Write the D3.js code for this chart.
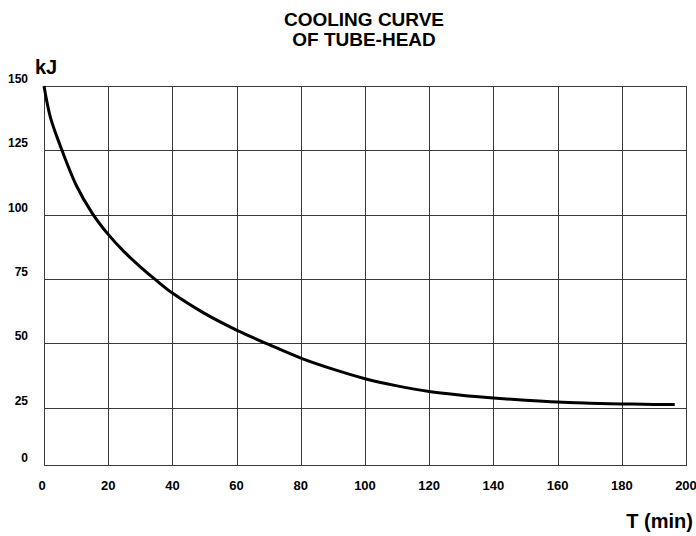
<html>
<script src='https://d3js.org/d3.v7.min.js'></script>
<style>
body {margin: 0; background: white;}
text {font-family: 'Liberation Sans', Arial, sans-serif; font-weight: bold; fill: black;}
.grid {stroke: #3a3a3a; stroke-width: 1; shape-rendering: crispEdges;}
</style>
<body>
    <svg width=696 height=536></svg>
    <script>
    var minutes = [0, 2, 5, 10, 15, 20, 25, 30, 35, 40, 50, 60, 70, 80, 90, 100, 110, 120, 130, 140, 150, 160, 170, 180, 190, 196.5]
    var energy  = [150, 137.8, 127, 111.5, 100.6, 92.3, 85.5, 79.7, 74.4, 69.5, 61.6, 55.1, 49.5, 44.2, 39.9, 36.2, 33.4, 31.2, 29.8, 28.7, 27.8, 27.1, 26.7, 26.4, 26.2, 26.2]
    var xTicks = [0, 20, 40, 60, 80, 100, 120, 140, 160, 180, 200]
    var yTicks = [0, 25, 50, 75, 100, 125, 150]
    var titleLines = ["COOLING CURVE", "OF TUBE-HEAD"]

    var svg = d3.select("svg")
    var x = d3.scaleLinear().domain([0, 200]).range([44, 686])
    // the bottom band of the original grid is drawn shorter than the others
    var y = d3.scaleLinear().domain([0, 25, 150]).range([465, 407.5, 86])
    var px = function(v) { return Math.round(v) + 0.5 }

    // grid
    svg.append("g").selectAll("line").data(xTicks).enter().append("line")
        .attr("class", "grid")
        .attr("x1", function(d) { return px(x(d)) }).attr("x2", function(d) { return px(x(d)) })
        .attr("y1", px(y(150))).attr("y2", px(y(0)))
    svg.append("g").selectAll("line").data(yTicks).enter().append("line")
        .attr("class", "grid")
        .attr("x1", px(x(0))).attr("x2", px(x(200)))
        .attr("y1", function(d) { return px(y(d)) }).attr("y2", function(d) { return px(y(d)) })

    // tick labels
    svg.append("g").selectAll("text").data(yTicks).enter().append("text")
        .attr("x", 28).attr("y", function(d) { return y(d) - 3 })
        .attr("text-anchor", "end").style("font-size", "12px")
        .text(function(d) { return d })
    svg.append("g").selectAll("text").data(xTicks).enter().append("text")
        .attr("x", function(d) { return x(d) - (d == 0 ? 2 : 0) }).attr("y", 490)
        .attr("text-anchor", "middle").style("font-size", "13px")
        .text(function(d) { return d })

    // curve
    var line = d3.line()
        .x(function(d, i) { return x(minutes[i]) })
        .y(function(d) { return y(d) })
        .curve(d3.curveCatmullRom.alpha(0.5))
    svg.append("path").datum(energy)
        .attr("d", line)
        .attr("fill", "none").attr("stroke", "black").attr("stroke-width", 3)
        .attr("stroke-linejoin", "round")

    // labels
    svg.append("text").attr("x", 35).attr("y", 74).style("font-size", "20px").text("kJ")
    svg.append("text").attr("x", 693).attr("y", 528).attr("text-anchor", "end").style("font-size", "20px").text("T (min)")
    svg.append("g").selectAll("text").data(titleLines).enter().append("text")
        .attr("x", 364).attr("y", function(d, i) { return 26 + i * 20 })
        .attr("text-anchor", "middle").style("font-size", "19px")
        .text(function(d) { return d })
    </script>
</body>
</html>
